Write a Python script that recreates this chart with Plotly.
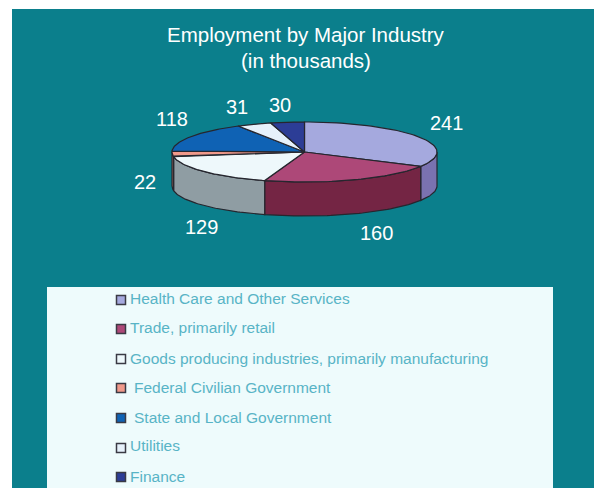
import numpy as np
import plotly.graph_objects as go

categories = ["Health Care and Other Services", "Trade, primarily retail",
              "Goods producing industries, primarily manufacturing",
              "Federal Civilian Government", "State and Local Government",
              "Utilities", "Finance"]
values = [241, 160, 129, 22, 118, 31, 30]
top_colors = ["#a5a9de", "#ad4878", "#eef8fb", "#f0998a", "#0f62b4", "#e6f1fb", "#2c3d96"]
wall_colors = ["#7a72b0", "#742544", "#8f9da3", "#a06a60", "#0a4480", "#9aa5b0", "#1d2a68"]
label_xy = [(446, 123), (376, 233), (201, 227), (145, 182), (172, 119), (237, 107), (280, 105)]
legend_y = [298, 327, 358, 387, 417, 445, 476]
legend_text_x = [128, 128, 128, 132, 132, 128, 128]
marker_y = [300, 329, 359, 388, 418, 448, 477]

CX, CY, A, B, DEPTH = 304.5, 152, 132.5, 30, 34
INK = "#26262e"
FIG_W, FIG_H = 620, 500  # slightly oversized so the panel bleeds off the window


def ellipse(t, dy=0.0):
    r = np.radians(t)
    return CX + A * np.sin(r), CY - B * np.cos(r) + dy


fig = go.Figure()
edges = np.concatenate([[0], np.cumsum(values)]) / sum(values) * 360


def poly(x, y, color):
    fig.add_trace(go.Scatter(x=x, y=y, mode="lines", fill="toself", fillcolor=color,
                             line=dict(color=INK, width=1.2), hoverinfo="skip", showlegend=False))


for i in range(len(values)):
    t1, t2 = edges[i], edges[i + 1]
    lo, hi = max(t1, 90), min(t2, 270)
    if hi > lo:
        t = np.linspace(lo, hi, 50)
        xt, yt = ellipse(t)
        xb, yb = ellipse(t[::-1], DEPTH)
        poly(np.concatenate([xt, xb, xt[:1]]), np.concatenate([yt, yb, yt[:1]]), wall_colors[i])

for i in range(len(values)):
    t = np.linspace(edges[i], edges[i + 1], 60)
    xt, yt = ellipse(t)
    poly(np.concatenate([[CX], xt, [CX]]), np.concatenate([[CY], yt, [CY]]), top_colors[i])

fig.add_trace(go.Scatter(x=[121] * len(categories), y=marker_y, mode="markers",
                         marker=dict(symbol="square", size=9, color=top_colors,
                                     line=dict(color="#3a3a44", width=1.5)),
                         hoverinfo="skip", showlegend=False))

notes = [dict(x=306, y=34, text="Employment by Major Industry", font=dict(size=20.5, color="white")),
         dict(x=306, y=60, text="(in thousands)", font=dict(size=20.5, color="white"))]
for v, (lx, ly) in zip(values, label_xy):
    notes.append(dict(x=lx, y=ly, text=str(v), font=dict(size=20, color="white")))
for c, lx, ly in zip(categories, legend_text_x, legend_y):
    notes.append(dict(x=lx, y=ly, text=c, xanchor="left", font=dict(size=15.5, color="#58b4c6")))
for n in notes:
    n.setdefault("xanchor", "center")
    n.update(showarrow=False, yanchor="middle", xref="x", yref="y")

fig.update_layout(
    width=FIG_W, height=FIG_H, margin=dict(l=0, r=0, t=0, b=0),
    paper_bgcolor="white", plot_bgcolor="white",
    font=dict(family="Liberation Sans"),
    xaxis=dict(range=[0, FIG_W], visible=False, fixedrange=True),
    yaxis=dict(range=[FIG_H, 0], visible=False, fixedrange=True),
    annotations=notes,
    shapes=[
        dict(type="rect", xref="x", yref="y", x0=12, x1=FIG_W, y0=9, y1=FIG_H,
             fillcolor="#0b7f8c", line_width=0, layer="below"),
        dict(type="rect", xref="x", yref="y", x0=47, x1=553, y0=287, y1=FIG_H,
             fillcolor="#eefbfc", line_width=0, layer="below"),
    ],
)
fig.write_html("out.html", config={"displayModeBar": False},
               post_script="document.body.style.margin='0';document.body.style.overflow='hidden';")
